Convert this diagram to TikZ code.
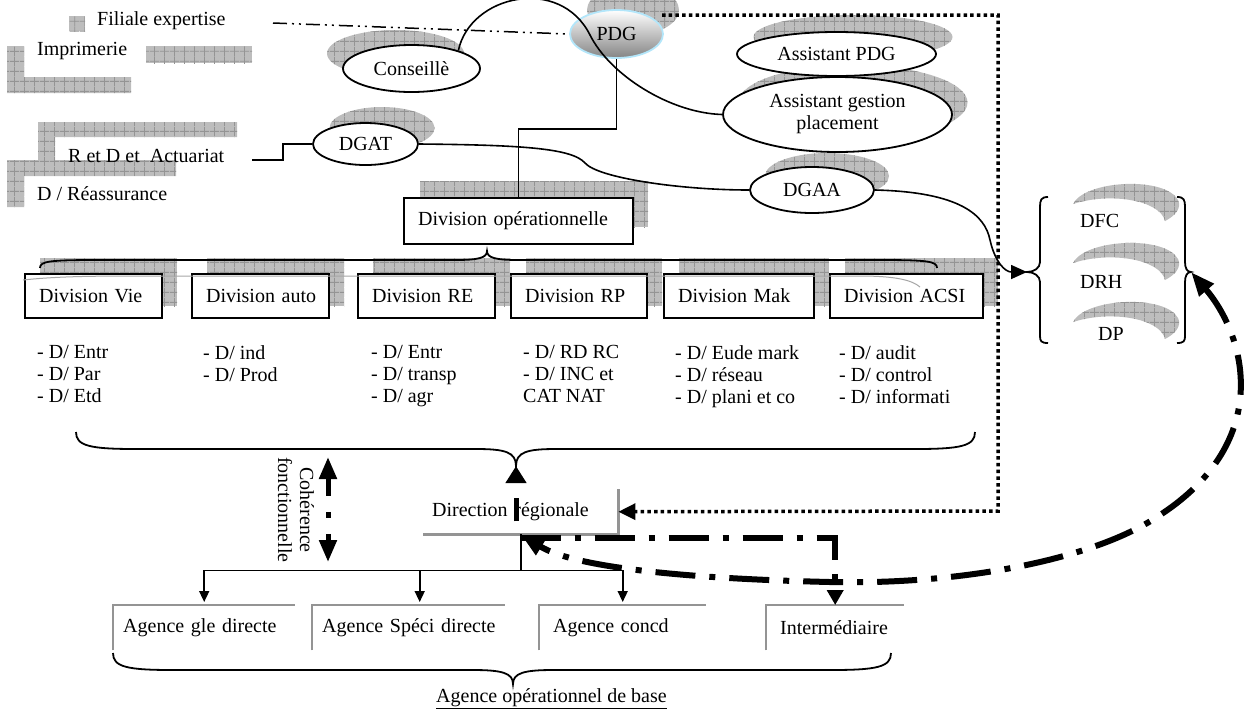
\documentclass[tikz,border=0pt]{standalone}
\usepackage{fontspec}
\setmainfont{Liberation Serif}
\usetikzlibrary{shapes.geometric,arrows.meta,patterns.meta}

\tikzdeclarepattern{
  name=cgrid,
  type=uncolored,
  bounding box={(0pt,0pt) and (10pt,10pt)},
  tile size={(10pt,10pt)},
  code={
    \draw[line width=0.9pt] (0pt,5pt) -- (10pt,5pt) (5pt,0pt) -- (5pt,10pt);
  }
}

\begin{document}
\begin{tikzpicture}[x=1pt,y=-1pt,
  font=\fontsize{20}{22}\selectfont,
  shadowfill/.style={preaction={fill=black!26}, pattern=cgrid, pattern color=black!42},
  ellsh/.style={ellipse, shadowfill, inner sep=0pt},
  ellnode/.style={ellipse, draw, line width=1.8pt, fill=white, inner sep=0pt, align=center},
  divbox/.style={draw, line width=2.2pt, fill=white, anchor=north west, minimum height=44pt, inner xsep=14pt, inner ysep=0pt, align=left, text width=#1},
  gbox/.style={anchor=north west, minimum height=45pt, inner ysep=0pt, align=left, text width=#1},
  grayedge/.style={draw=black!42, line width=2.5pt},
  conn/.style={line width=1.6pt},
  tarrow/.style={conn, -{Triangle[length=11pt,width=10pt]}, shorten >=3pt},
  thickdd/.style={line width=6pt, dash pattern=on 40pt off 14pt on 6pt off 14pt},
  dotline/.style={line width=3.5pt, dash pattern=on 3.5pt off 3.2pt},
  ddline/.style={line width=1.5pt, dash pattern=on 14pt off 5pt on 2pt off 5pt on 2pt off 5pt},
  bracel/.style={line width=1.8pt},
  txt/.style={inner sep=0pt, anchor=base west},
  list/.style={inner sep=0pt, anchor=north west, align=left},
]
\useasboundingbox (0,0) rectangle (1246,716);

% ---------- gray patterned shadows ----------
\path[shadowfill] (69,16) rectangle (85,31);
\path[shadowfill] (7,46) -- (24,46) -- (24,77) -- (131,77) -- (131,93) -- (7,93) -- cycle;
\path[shadowfill] (146,46) rectangle (252,63);
\path[shadowfill] (38,122) -- (237,122) -- (237,137) -- (55,137) -- (55,167) -- (38,167) -- cycle;
\path[shadowfill] (7,160) -- (176,160) -- (176,176) -- (24,176) -- (24,207) -- (7,207) -- cycle;

\node[ellsh, minimum width=137pt, minimum height=47pt] (conssh) at (395.5,53.5) {};
\node[ellsh, minimum width=92pt, minimum height=50pt] (pdgsh) at (633,10) {};
\node[ellsh, minimum width=199pt, minimum height=44pt] (apdgsh) at (853,37) {};
\node[ellsh, minimum width=229pt, minimum height=75pt] (agpsh) at (853,102.5) {};
\node[ellsh, minimum width=105pt, minimum height=42pt] (dgatsh) at (382,128) {};
\node[ellsh, minimum width=124pt, minimum height=46pt] (dgaash) at (827,176) {};

\path[shadowfill] (420,181) rectangle (648,227);
\foreach \xa/\xb in {24/161,191/328,357/494,510/646,663/813,829/982}
  \path[shadowfill] (\xa+16,258) rectangle (\xb+16,306);

\foreach \dy in {0,59,118}
  \path[shadowfill, shift={(0,\dy)}] (1073,204) .. controls (1085,180) and (1165,176) .. (1178,200)
     .. controls (1182,208) and (1175,216) .. (1165,221)
     .. controls (1160,200) and (1110,192) .. (1073,204) -- cycle;

% ---------- ellipses ----------
\node[ellnode, minimum width=137pt, minimum height=47pt] (cons) at (411.5,68.5) {Conseillè};
\node[ellnode, draw=cyan!30, top color=white, bottom color=black!48, minimum width=93pt, minimum height=48pt] (pdg) at (616.5,34) {PDG};
\node[ellnode, minimum width=199pt, minimum height=44pt] (apdg) at (836.5,54) {Assistant PDG};
\node[ellnode, minimum width=229pt, minimum height=75pt] (agp) at (837.5,114.5) {Assistant gestion\\placement};
\node[ellnode, minimum width=105pt, minimum height=42pt] (dgat) at (365.5,144) {DGAT};
\node[ellnode, minimum width=124pt, minimum height=46pt] (dgaa) at (812,190) {DGAA};

% ---------- boxes ----------
\node[divbox=201pt, minimum height=46pt] (divop) at (403,197) {\mbox{Division opérationnelle}};
\node[divbox=109pt] (dvie) at (24,273) {\mbox{Division Vie}};
\node[divbox=109pt] (dauto) at (191,273) {\mbox{Division auto}};
\node[divbox=109pt] (dre) at (357,273) {\mbox{Division RE}};
\node[divbox=108pt] (drp) at (510,273) {\mbox{Division RP}};
\node[divbox=122pt] (dmak) at (663,273) {\mbox{Division Mak}};
\node[divbox=125pt] (dacsi) at (829,273) {\mbox{Division ACSI}};

\draw[black!35, line width=1pt] (23,280) .. controls (60,276) and (100,276) .. (150,276) -- (860,276) .. controls (895,276) and (912,280) .. (920,287);

\node[gbox=177pt, inner xsep=9pt] (dr) at (423,489) {\mbox{Direction régionale}};
\node[gbox=162pt, inner xsep=10pt] (a1) at (113,605) {\mbox{Agence gle directe}};
\node[gbox=173pt, inner xsep=10pt] (a2) at (312,605) {\mbox{Agence Spéci directe}};
\node[gbox=139pt, inner xsep=14pt] (a3) at (539,605) {\mbox{Agence concd}};
\node[gbox=110pt, inner xsep=14pt] (a4) at (766,605) {\mbox{Intermédiaire}};
\draw[grayedge] (dr.north east) -- (dr.south east) -- (dr.south west);
\foreach \n in {a1,a2,a3,a4}
  \draw[grayedge] (\n.south west) -- (\n.north west) -- (\n.north east);

% ---------- texts ----------
\node[txt] (tfil) at (97,25) {Filiale expertise};
\node[txt] (timp) at (37,55) {Imprimerie};
\node[txt] (trd) at (68,162) {R et D et~~Actuariat};
\node[txt] (treass) at (37,200) {D / Réassurance};
\node[txt] (tdfc) at (1080,227) {DFC};
\node[txt] (tdrh) at (1080,288) {DRH};
\node[txt] (tdp) at (1098,340) {DP};

\node[list] (l1) at (37,345) {- D/ Entr\\- D/ Par\\- D/ Etd};
\node[list] (l2) at (203,345) {- D/ ind\\- D/ Prod};
\node[list] (l3) at (371,345) {- D/ Entr\\- D/ transp\\- D/ agr};
\node[list] (l4) at (523,345) {- D/ RD RC\\- D/ INC et\\CAT NAT};
\node[list] (l5) at (675,345) {- D/ Eude mark\\- D/ réseau\\- D/ plani et co};
\node[list] (l6) at (839,345) {- D/ audit\\- D/ control\\- D/ informati};

\node[rotate=-90, align=center, inner sep=0pt] (coh) at (296,510) {Cohérence\\fonctionnelle};
\node[txt] (tbase) at (436,702) {\underline{Agence opérationnel de base}};

% ---------- coordinates ----------
\coordinate (fstart) at (273,23);
\coordinate (rdend) at (252,160);
\coordinate (dstart) at (662,15);
\coordinate (dcorner) at (998,511);
\coordinate (dbt) at (487,251);
\coordinate (lbt) at (516,466);
\coordinate (bbt) at (513,684);
\coordinate (lbt2) at (1027,272);
\coordinate (rbt) at (1191,272);
\coordinate (coh1) at (328,457);
\coordinate (coh2) at (328,562);
\coordinate (jn) at ([yshift=-70pt]pdg.south);
\coordinate (tj) at ([yshift=-36pt]dr.south);

% ---------- braces ----------
\draw[bracel] (40,268) .. controls (40,261) and (50,260) .. (100,260) -- (455,260)
  .. controls (478,260) and (487,258) .. (dbt) .. controls (487,258) and (496,260) .. (519,260)
  -- (877,260) .. controls (927,260) and (937,261) .. (937,268);
\draw[bracel] (76,432) .. controls (76,446) and (90,449) .. (136,449) -- (476,449)
  .. controls (505,449) and (516,452) .. (lbt) .. controls (516,452) and (527,449) .. (556,449)
  -- (915,449) .. controls (961,449) and (975,446) .. (975,432);
\draw[bracel] (113,653) .. controls (113,667) and (127,670) .. (173,670) -- (473,670)
  .. controls (502,670) and (513,673) .. (bbt) .. controls (513,673) and (524,670) .. (553,670)
  -- (831,670) .. controls (877,670) and (891,667) .. (891,653);
\draw[bracel] (1048,197) .. controls (1041,197) and (1040,200) .. (1040,207) -- (1040,262)
  .. controls (1040,268) and (1034,272) .. (lbt2) .. controls (1034,272) and (1040,276) .. (1040,282)
  -- (1040,336) .. controls (1040,341) and (1041,343) .. (1048,343);
\draw[bracel] (1177,197) .. controls (1184,197) and (1185,200) .. (1185,207) -- (1185,262)
  .. controls (1185,268) and (1187,272) .. (rbt) .. controls (1187,272) and (1185,276) .. (1185,282)
  -- (1185,336) .. controls (1185,341) and (1184,343) .. (1177,343);

% ---------- connectors ----------
\draw[ddline] (fstart) -- (pdg.west);
\draw[conn] (pdg.south) -- (jn) -| (divop.north);
\draw[conn] (rdend) -- ++(31,0) |- (dgat.west);
\draw[conn] (dgat.east) .. controls (520,145) and (572,148) .. (585,163)
  .. controls (598,178) and (680,190) .. (dgaa.west);
\draw[conn, -{Triangle[length=16pt,width=14pt]}] (dgaa.east) .. controls (960,192) and (985,215) .. (990,240)
  .. controls (995,262) and (1005,272) .. (lbt2);
\draw[conn] (cons.21) .. controls (470,-5) and (560,-25) .. (590,35)
  .. controls (610,75) and (670,113) .. (agp.west);

\draw[dotline, -{Triangle[length=17pt,width=16pt]}] (dstart) -| (dcorner) -- (dr.east);

\draw[conn] (dr.south) -- (tj);
\draw[tarrow] (tj) -| (a1.north);
\draw[tarrow] (tj) -| (a3.north);
\draw[tarrow] ([xshift=11pt]a2.north |- tj) -- ([xshift=11pt]a2.north);

\draw[line width=5pt, dash pattern=on 18pt off 16pt on 6pt off 16pt on 40pt off 10pt,
  {Triangle[length=22pt,width=17pt]}-{Triangle[length=22pt,width=17pt]}] (coh1) -- (coh2);
\draw[line width=5pt, dash pattern=on 23pt off 27pt, dash phase=37pt,
  -{Triangle[length=17pt,width=20pt]}] (dr.south -| lbt) -- (lbt);

\draw[thickdd, -{Triangle[length=15pt,width=16pt]}] ([yshift=-4pt]dr.south) -| (a4.north);
\draw[thickdd, {Triangle[length=24pt,width=18pt]}-{Triangle[length=24pt,width=18pt]}]
  (rbt) .. controls (1245,335) and (1275,440) .. (1160,515)
  .. controls (1094,560) and (960,585) .. (830,582)
  .. controls (700,579) and (577,569) .. (dr.south);
\end{tikzpicture}
\end{document}
